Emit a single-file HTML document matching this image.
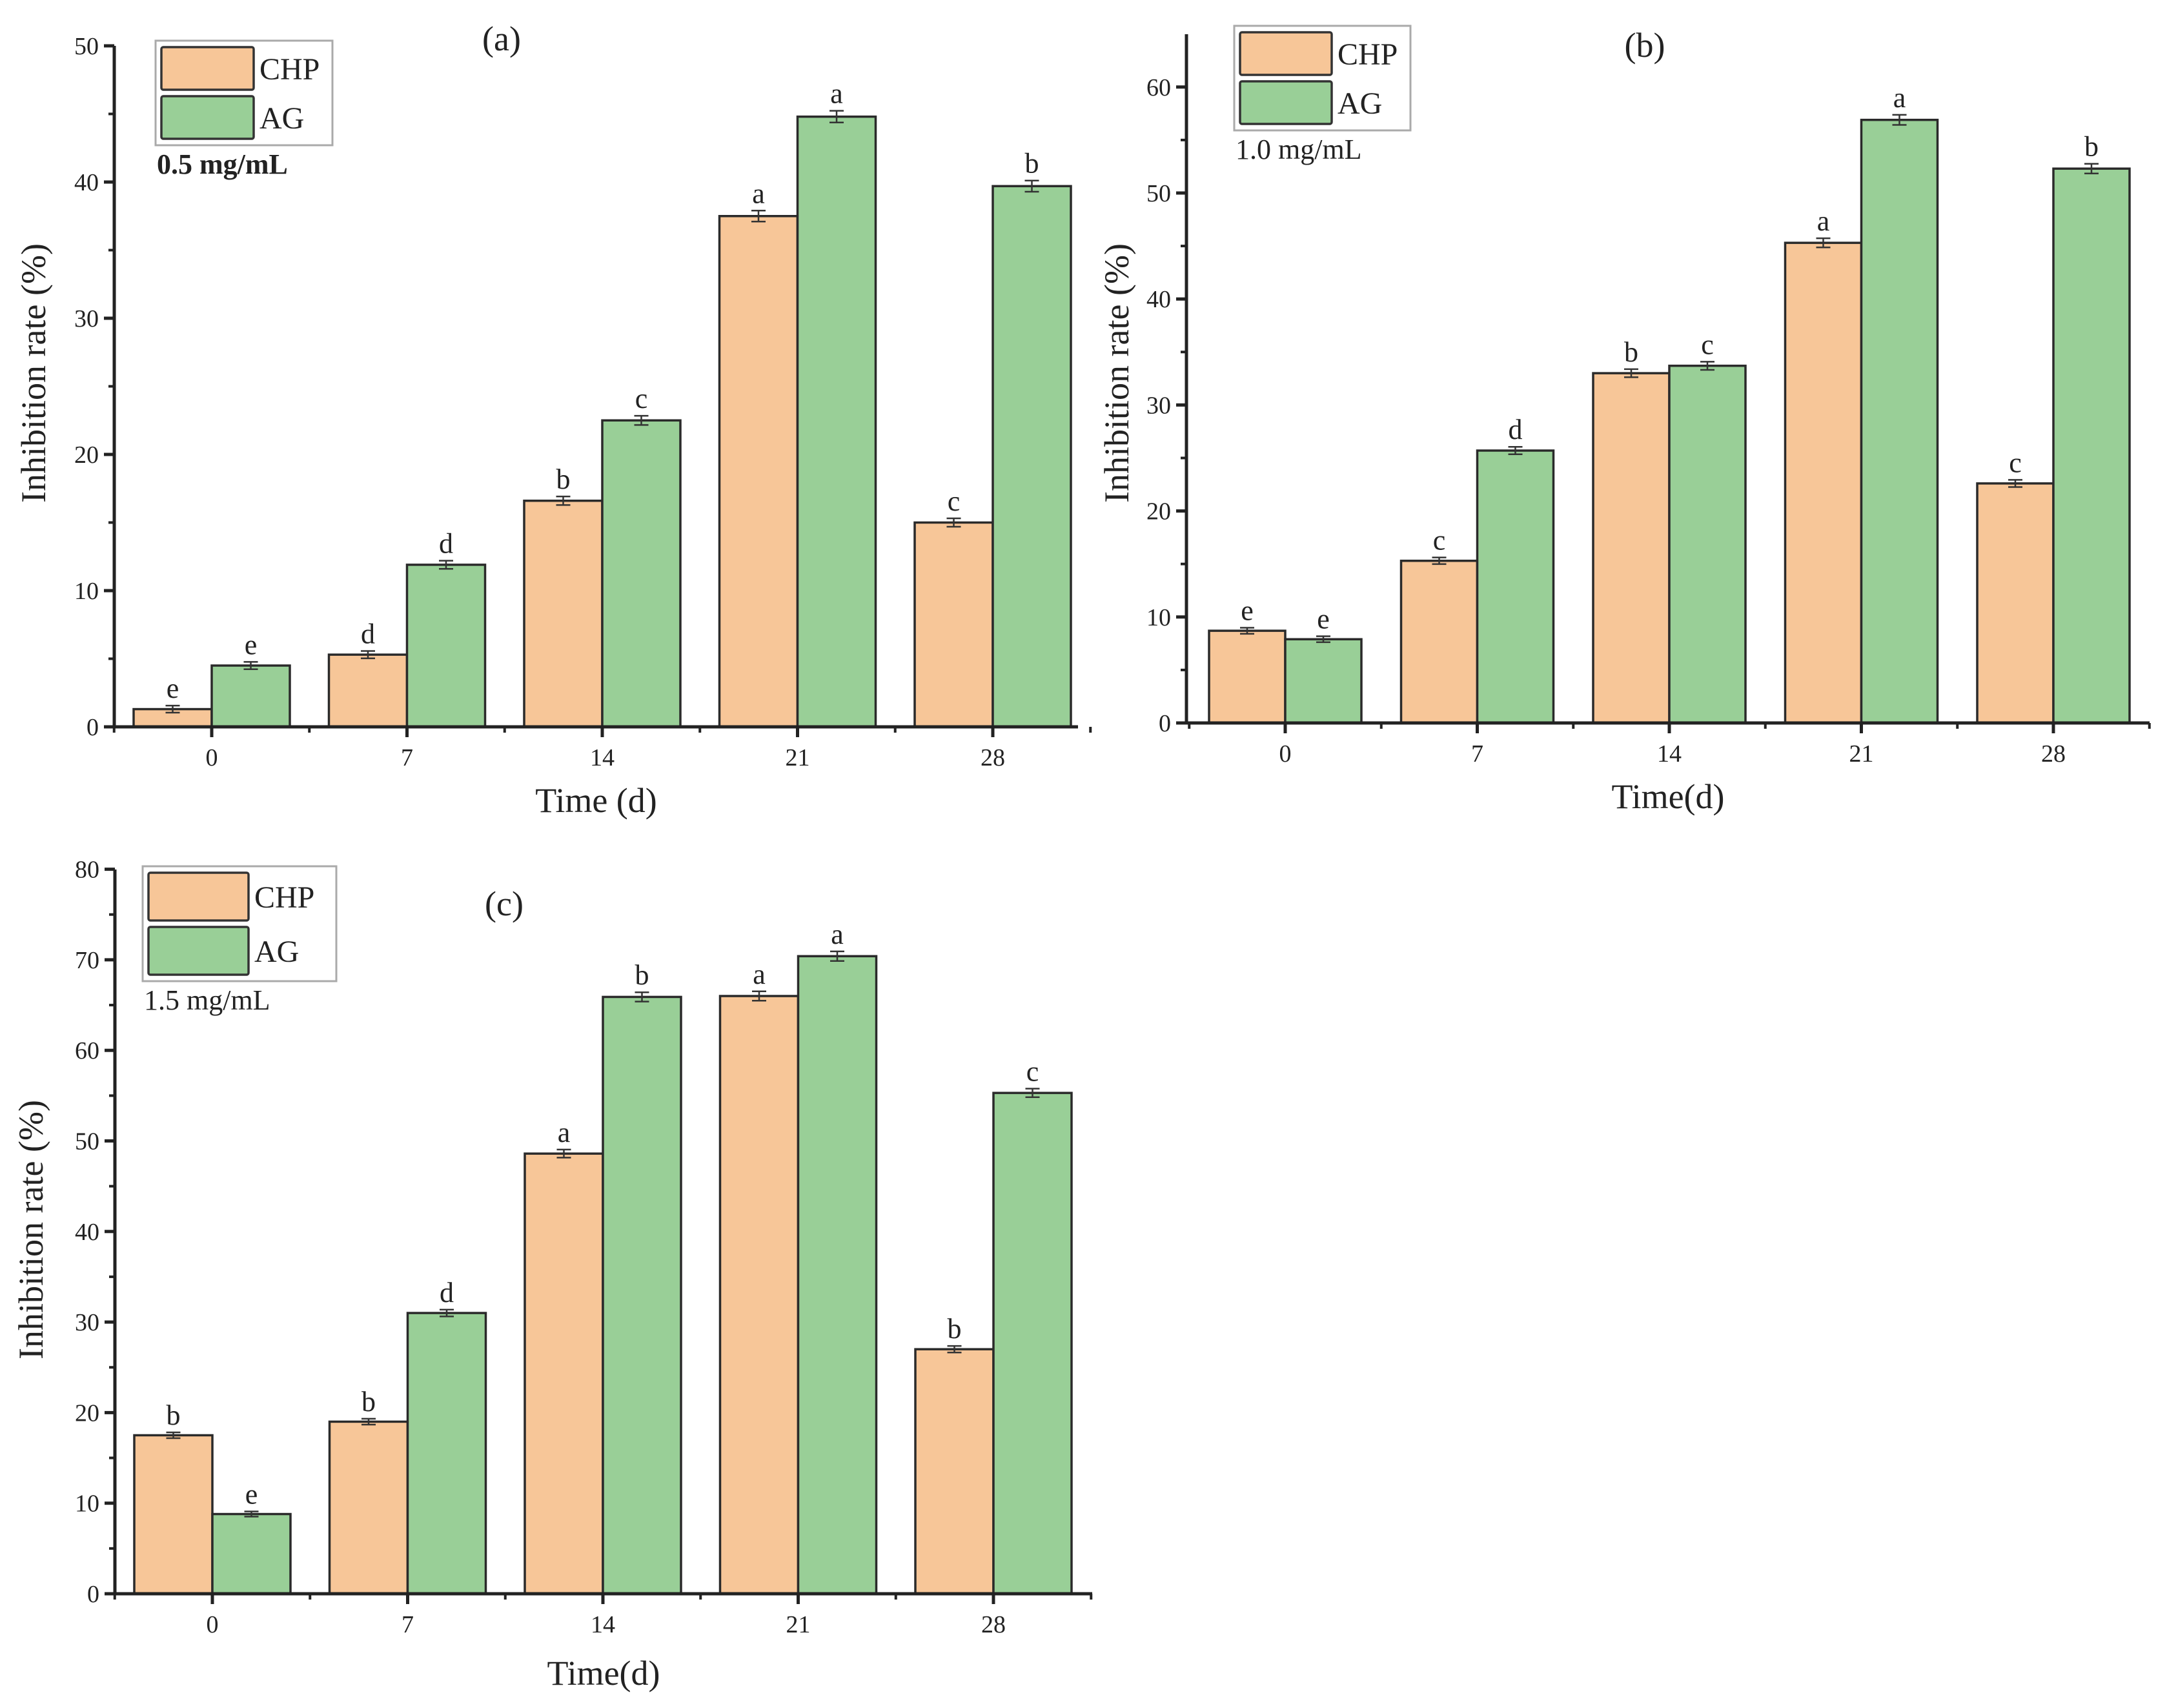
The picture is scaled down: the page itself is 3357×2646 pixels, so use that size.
<!DOCTYPE html>
<html><head><meta charset="utf-8">
<style>
html,body{margin:0;padding:0;background:#fff;}
svg{display:block;font-family:"Liberation Serif",serif;}
</style></head>
<body>
<svg id="chart" width="3357" height="2646" viewBox="0 0 3357 2646" xmlns="http://www.w3.org/2000/svg"></svg>
<script>
const days = [0, 7, 14, 21, 28];
const chpA = [1.3, 5.3, 16.6, 37.5, 15.0];
const agA = [4.5, 11.9, 22.5, 44.8, 39.7];
const chpALetters = ["e", "d", "b", "a", "c"];
const agALetters = ["e", "d", "c", "a", "b"];
const chpB = [8.7, 15.3, 33.0, 45.3, 22.6];
const agB = [7.9, 25.7, 33.7, 56.9, 52.3];
const chpBLetters = ["e", "c", "b", "a", "c"];
const agBLetters = ["e", "d", "c", "a", "b"];
const chpC = [17.5, 19.0, 48.6, 66.0, 27.0];
const agC = [8.8, 31.0, 65.9, 70.4, 55.3];
const chpCLetters = ["b", "b", "a", "a", "b"];
const agCLetters = ["e", "d", "b", "a", "c"];
const ticksA = [0, 10, 20, 30, 40, 50];
const ticksB = [0, 10, 20, 30, 40, 50, 60];
const ticksC = [0, 10, 20, 30, 40, 50, 60, 70, 80];

const NS = "http://www.w3.org/2000/svg";
const svg = document.getElementById("chart");
function mk(tag, attrs, parent, text) {
  const e = document.createElementNS(NS, tag);
  for (const k in attrs) e.setAttribute(k, attrs[k]);
  if (text !== undefined) e.textContent = text;
  (parent || svg).appendChild(e);
  return e;
}

function drawPanel(p) {
  const g = mk("g", {});
  
  
  const y = v => p.y0 - (v / 10) * p.per10;
  const xc = d => p.c0 + (d / 7) * p.step;
  const bw = p.bw;
  days.forEach((d, i) => {
    const c = xc(d);
    [[p.chp[i], c - bw, "#f7c698", p.chpL[i], "chp"], [p.ag[i], c, "#99cf97", p.agL[i], "ag"]].forEach(([v, x, col, L, s]) => {
      const r = mk("rect", {x: x, y: y(v), width: bw, height: p.y0 - y(v), fill: col, stroke: "#2a2a2a", "stroke-width": 3.5}, g);
      
      
      const e = 0.25 + v * 0.004;
      const cx = x + bw / 2;
      const eb = mk("path", {d: `M${cx} ${y(v + e)}V${y(v - e)}M${cx - 11} ${y(v + e)}H${cx + 11}M${cx - 11} ${y(v - e)}H${cx + 11}`, stroke: "#333", "stroke-width": 2.5, fill: "none"}, g);
      
      
      const t = mk("text", {x: cx, y: y(v + e) - 12, "font-size": 44, "text-anchor": "middle", fill: "#222"}, g, L);
      
      
    });
  });
  const ya = mk("path", {d: `M${p.ax} ${p.top}V${p.y0}H${p.xEnd}`, stroke: "#222", "stroke-width": 5, fill: "none"}, g);
  
  
  p.ticks.forEach((t, i) => {
    mk("line", {x1: p.ax - 16, x2: p.ax, y1: y(t), y2: y(t), stroke: "#222", "stroke-width": 5}, g);
    if (i < p.ticks.length - 1) mk("line", {x1: p.ax - 9, x2: p.ax, y1: y(t + 5), y2: y(t + 5), stroke: "#222", "stroke-width": 4}, g);
    const tl = mk("text", {x: p.ax - 24, y: y(t) + 13, "font-size": 38, "text-anchor": "end", fill: "#222"}, g, String(t));
    
    
  });
  days.forEach(d => {
    const c = xc(d);
    mk("line", {x1: c, x2: c, y1: p.y0, y2: p.y0 + 16, stroke: "#222", "stroke-width": 5}, g);
    mk("line", {x1: c + p.step / 2, x2: c + p.step / 2, y1: p.y0, y2: p.y0 + 9, stroke: "#222", "stroke-width": 4}, g);
    const tl = mk("text", {x: c, y: p.y0 + 60, "font-size": 38, "text-anchor": "middle", fill: "#222"}, g, String(d));
    
    
  });
  mk("line", {x1: p.c0 - p.step / 2, x2: p.c0 - p.step / 2, y1: p.y0, y2: p.y0 + 9, stroke: "#222", "stroke-width": 4}, g);
  const xt = mk("text", {x: (p.ax + p.xEnd) / 2, y: p.xTitleY, "font-size": 54, "text-anchor": "middle", fill: "#222"}, g, p.xTitle);
  
  
  const yt = mk("text", {x: 0, y: 0, "font-size": 54, "text-anchor": "middle", fill: "#222", transform: `translate(${p.yTitleX},${p.yTitleY}) rotate(-90)`}, g, "Inhibition rate (%)");
  
  
  const L = p.leg;
  const lg = mk("g", {}, g);
  
  
  mk("rect", {x: L.x, y: L.y, width: L.w, height: L.h, fill: "#fff", stroke: "#aaa", "stroke-width": 3}, lg);
  const ph = (L.h - 30) / 2;
  [["CHP", "#f7c698"], ["AG", "#99cf97"]].forEach(([n, col], i) => {
    const py = L.y + 10 + i * (ph + 10);
    const pr = mk("rect", {x: L.x + 9, y: py, width: L.pw, height: ph, fill: col, stroke: "#333", "stroke-width": 3.5, rx: 3}, lg);
    
    
    const lt = mk("text", {x: L.x + L.pw + 18, y: py + ph / 2 + 17, "font-size": 48, fill: "#222"}, lg, n);
    
    
  });
  const cl = mk("text", {x: L.x + 2, y: L.y + L.h + 44, "font-size": 44, "font-weight": p.bold ? "bold" : "normal", fill: "#222"}, g, p.conc);
  
  
  const pl = mk("text", {x: p.lab[0], y: p.lab[1], "font-size": 54, "text-anchor": "middle", fill: "#222"}, g, p.label);
  
  
}

drawPanel({name: "panel-a", chp: chpA, ag: agA, chpL: chpALetters, agL: agALetters, ticks: ticksA,
  ax: 177, top: 71, y0: 1126, per10: 211, c0: 328, step: 302.5, bw: 121, xEnd: 1670,
  xTitle: "Time (d)", xTitleY: 1258, yTitleX: 70, yTitleY: 578,
  leg: {x: 241, y: 63, w: 274, h: 162, pw: 143}, conc: "0.5 mg/mL", bold: true, label: "(a)", lab: [777, 78]});
drawPanel({name: "panel-b", chp: chpB, ag: agB, chpL: chpBLetters, agL: agBLetters, ticks: ticksB,
  ax: 1838, top: 53, y0: 1120, per10: 164.2, c0: 1991, step: 297.5, bw: 118, xEnd: 3330,
  xTitle: "Time(d)", xTitleY: 1252, yTitleX: 1748, yTitleY: 578,
  leg: {x: 1912, y: 40, w: 273, h: 162, pw: 142}, conc: "1.0 mg/mL", bold: false, label: "(b)", lab: [2548, 88]});
drawPanel({name: "panel-c", chp: chpC, ag: agC, chpL: chpCLetters, agL: agCLetters, ticks: ticksC,
  ax: 178, top: 1347, y0: 2469, per10: 140.3, c0: 329, step: 302.5, bw: 121, xEnd: 1692,
  xTitle: "Time(d)", xTitleY: 2610, yTitleX: 66, yTitleY: 1905,
  leg: {x: 221, y: 1342, w: 300, h: 178, pw: 155}, conc: "1.5 mg/mL", bold: false, label: "(c)", lab: [781, 1418]});
</script>
</body></html>
